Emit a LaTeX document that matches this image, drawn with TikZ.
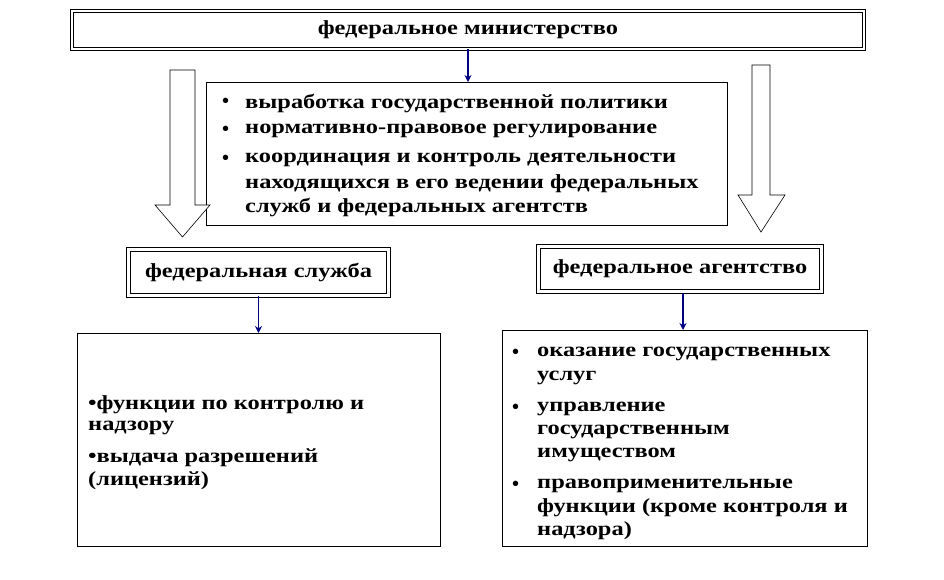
\documentclass[tikz,border=0pt]{standalone}
\usetikzlibrary{arrows.meta}
\usepackage{fontspec}
\setmainfont{Liberation Serif}
\newcommand\wt[1]{\scalebox{1.22}[1]{#1}}
\begin{document}
\begin{tikzpicture}[x=1pt,y=-1pt,
 txt/.style={font=\bfseries\fontsize{20}{24}\selectfont,anchor=west,inner sep=0pt},
 box/.style={draw,line width=0.8pt,fill=white},
 dbl/.style={draw,double,double distance=2.5pt,line width=0.8pt,font=\bfseries\fontsize{20}{24}\selectfont},
 blue/.style={draw=blue!50!black,line width=1.5pt,-{Stealth[length=7pt,width=7pt]}},
 hollow/.style={draw,line width=0.6pt,fill=white}]
\useasboundingbox (0,0) rectangle (944,579);
\node[dbl,minimum width=792,minimum height=38] (top) at (468,30) {\wt{федеральное министерство}};
\node[box,minimum width=521,minimum height=143,anchor=north west] (mid) at (206,82) {};
\draw[hollow] (170,70)--(195,70)--(195,205)--(210,205)--(182.5,237)--(155,205)--(170,205)--cycle;
\draw[hollow] (752,65)--(770,65)--(770,195)--(785,195)--(761,232)--(738,195)--(752,195)--cycle;
\node[txt] at (222,103) {•};\node[txt] at (245,103) {\wt{выработка государственной политики}};
\node[txt] at (222,131) {•};\node[txt] at (245,131) {\wt{нормативно-правовое регулирование}};
\node[txt] at (222,160) {•};\node[txt] at (245,160) {\wt{координация и контроль деятельности}};
\node[txt] at (245,184) {\wt{находящихся в его ведении федеральных}};
\node[txt] at (245,207) {\wt{служб и федеральных агентств}};
\draw[blue] (top.south) -- (mid.north -| top.south);
\node[dbl,minimum width=260,minimum height=46] (fs) at (258.5,272.5) {\wt{федеральная служба}};
\node[dbl,minimum width=283,minimum height=45] (fa) at (680,269) {\wt{федеральное агентство}};
\node[box,minimum width=363,minimum height=213,anchor=north west] (lb) at (77,333) {};
\node[box,minimum width=365,minimum height=216,anchor=north west] (rb) at (502,330) {};
\draw[blue] (fs.south) -- (lb.north -| fs.south);
\draw[blue] (683,293) -- (rb.north -| 683,0);
\node[txt] at (88,405) {\wt{•функции по контролю и}};
\node[txt] at (88,428) {\wt{надзору}};
\node[txt] at (88,458) {\wt{•выдача разрешений}};
\node[txt] at (88,481) {\wt{(лицензий)}};
\node[txt] at (512,354) {•};\node[txt] at (537,354) {\wt{оказание государственных}};
\node[txt] at (537,378) {\wt{услуг}};
\node[txt] at (512,409) {•};\node[txt] at (537,409) {\wt{управление}};
\node[txt] at (537,432) {\wt{государственным}};
\node[txt] at (537,455) {\wt{имуществом}};
\node[txt] at (512,486) {•};\node[txt] at (537,486) {\wt{правоприменительные}};
\node[txt] at (537,508) {\wt{функции (кроме контроля и}};
\node[txt] at (537,531) {\wt{надзора)}};
\end{tikzpicture}
\end{document}
